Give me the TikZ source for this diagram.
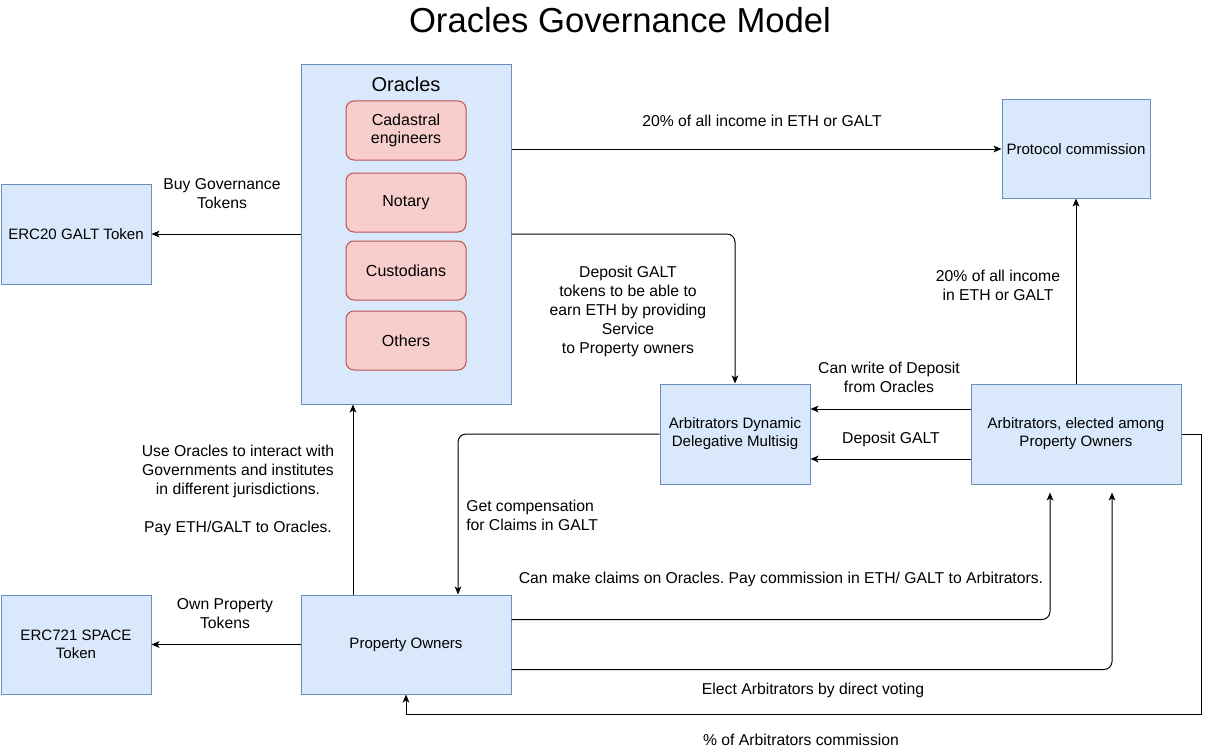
\documentclass[tikz,border=0pt]{standalone}
\usepackage{fontspec}
\setmainfont{Liberation Sans}
\frenchspacing
\usepackage{tikz}
\usetikzlibrary{calc,arrows.meta}
\definecolor{boxfill}{HTML}{DAE8FC}
\definecolor{boxline}{HTML}{6C8EBF}
\definecolor{rolefill}{HTML}{F8CECC}
\definecolor{roleline}{HTML}{B85450}
\tikzset{
	box/.style={draw=boxline, fill=boxfill, line width=0.75pt, inner sep=0pt, align=center, font=\fontsize{11.3}{13.5}\selectfont},
	role/.style={draw=roleline, fill=rolefill, line width=0.75pt, rounded corners=6pt, inner sep=0pt, align=center, minimum width=90pt, minimum height=44.25pt, font=\fontsize{12}{14}\selectfont},
	lbl/.style={align=center, inner sep=0pt, font=\fontsize{11.8}{14.25}\selectfont},
	flow/.style={line width=0.75pt, -{Stealth[length=6pt, width=5pt, inset=1.5pt]}}
}

\begin{document}
\begin{tikzpicture}[x=0.75pt, y=-0.75pt]
			%%%%% START %%%%%
			
			\useasboundingbox (0, 0) rectangle (1210, 749);
			
			\node[inner sep=0pt, font=\fontsize{26}{30}\selectfont] (title) at (620, 20) {Oracles Governance Model};
			
			\node[box, minimum width=157.5pt, minimum height=254.25pt] (oracles) at (406, 234.5) {};
			\node[inner sep=0pt, font=\fontsize{15}{18}\selectfont] (oracleshead) at (406, 84) {Oracles};
			\node[role] (cadastral) at (406, 130.5) {Cadastral\\engineers};
			\node[role] (notary) at (406, 202.5) {Notary};
			\node[role] (custodians) at (406, 270.5) {Custodians};
			\node[role] (others) at (406, 340.5) {Others};
			
			\node[box, minimum width=112.5pt, minimum height=75pt] (erc20) at (76, 234) {ERC20 GALT Token};
			\node[box, minimum width=111pt, minimum height=73.5pt] (protocol) at (1076, 149) {Protocol commission};
			\node[box, minimum width=112.5pt, minimum height=75pt] (multisig) at (735, 434) {Arbitrators Dynamic\\Delegative Multisig};
			\node[box, minimum width=157.5pt, minimum height=75pt] (arbit) at (1076, 434) {Arbitrators, elected among\\Property Owners};
			\node[box, minimum width=112.5pt, minimum height=74.25pt] (erc721) at (76, 644.5) {ERC721 SPACE\\Token};
			\node[box, minimum width=157.5pt, minimum height=74.25pt] (propown) at (406, 644.5) {Property Owners};
			
			\draw[flow] (oracles.east |- protocol.west) -- (protocol.west);
			\node[lbl] (incomelbl) at (762, 121) {20\% of all income in ETH or GALT};
			
			\draw[flow] (oracles.west |- erc20.east) -- (erc20.east);
			\node[lbl] (buylbl) at (222, 194) {Buy Governance\\Tokens};
			
			\draw[flow, rounded corners=6pt] (oracles.east |- erc20.east) -| (multisig.north);
			\node[lbl] (depositlbl) at (628, 311) {Deposit GALT\\tokens to be able to\\earn ETH by providing\\Service\\to Property owners};
			
			\draw[flow] ($(arbit.west)+(0, -25)$) -- ($(multisig.east)+(0, -25)$);
			\node[lbl] (writelbl) at (889, 377) {Can write of Deposit\\from Oracles};
			\draw[flow] ($(arbit.west)+(0, 25)$) -- ($(multisig.east)+(0, 25)$);
			\node[lbl] (galtlbl) at (891, 439) {Deposit GALT};
			
			\draw[flow] (arbit.north) -- (protocol.south);
			\node[lbl] (sharelbl) at (998, 285) {20\% of all income\\in ETH or GALT};
			
			\draw[flow, rounded corners=6pt] (multisig.west) -| ($(propown.north)+(52, 0)$);
			\node[lbl, align=left, anchor=west] (complbl) at (466, 515) {Get compensation\\for Claims in GALT};
			
			\draw[flow] ($(propown.north)+(-53, 0)$) -- ($(oracles.south)+(-53, 0)$);
			\node[lbl] (uselbl) at (238, 490) {Use Oracles to interact with\\Governments and institutes\\in different jurisdictions.\\[14.25pt]Pay ETH/GALT to Oracles.};
			
			\draw[flow] (propown.west) -- (erc721.east);
			\node[lbl] (ownlbl) at (225, 614) {Own Property\\Tokens};
			
			\draw[flow, rounded corners=6pt, shorten >=6pt] ($(propown.east)+(0, -25)$) -| ($(arbit.south)+(-26, 0)$);
			\node[lbl] (claimlbl) at (781, 579) {Can make claims on Oracles. Pay commission in ETH/ GALT to Arbitrators.};
			
			\draw[flow, rounded corners=6pt, shorten >=6pt] ($(propown.east)+(0, 25)$) -| ($(arbit.south)+(36, 0)$);
			\node[lbl] (electlbl) at (813, 690) {Elect Arbitrators by direct voting};
			
			\coordinate (loop) at ($(arbit.east)+(20, 0)$);
			\draw[flow] (arbit.east) -- (loop) |- ($(propown.south)+(0, 20)$) -- (propown.south);
			\node[lbl] (cutlbl) at (801, 740) {\% of Arbitrators commission};
			
			%%%%% END %%%%%
		\end{tikzpicture}
\end{document}
